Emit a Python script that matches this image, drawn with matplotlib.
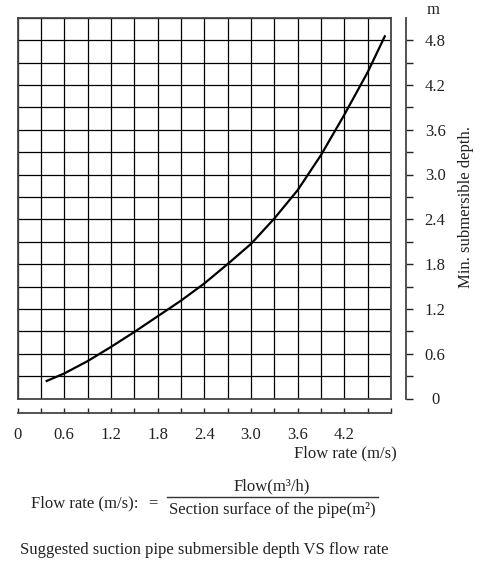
#matplotlib used to redraw the submersible depth chart
import matplotlib.pyplot as plt
from matplotlib.lines import Line2D
import numpy as np

plt.rcParams['font.family'] = ['Liberation Serif', 'DejaVu Serif']

flow = [0.375, 0.6, 0.9, 1.2, 1.5, 1.8, 2.1, 2.4, 2.7, 3.0, 3.3, 3.6, 3.9, 4.2, 4.5, 4.72]
depth = [0.235, 0.335, 0.50, 0.69, 0.89, 1.10, 1.31, 1.54, 1.80, 2.07, 2.41, 2.79, 3.26, 3.80, 4.37, 4.85]

step = 0.3
x_max = 4.8
y_max = 5.1
x_labels = ['0', '0.6', '1.2', '1.8', '2.4', '3.0', '3.6', '4.2']
y_labels = ['0', '0.6', '1.2', '1.8', '2.4', '3.0', '3.6', '4.2', '4.8']

W, H = 500, 565
fs = 12
txt_col = '#222222'
fig = plt.figure(figsize=(W/100, H/100), dpi=100)

def fx(px):
    return px/W

def fy(py):
    return 1 - py/H

# main grid
left, right, top, bottom = 17.5, 391, 17.7, 398.5
ax = fig.add_axes([fx(left), fy(bottom), fx(right-left), (bottom-top)/H])
ax.set_xlim(0, x_max)
ax.set_ylim(0, y_max)
xt = np.arange(0, x_max+0.01, step)
yt = np.arange(0, y_max+0.01, step)
ax.set_xticks(xt)
ax.set_yticks(yt)
ax.tick_params(length=0, labelbottom=False, labelleft=False)
ax.grid(True, color='black', linewidth=0.9)
for s in ax.spines.values():
    s.set_color('#444444')
    s.set_linewidth(1.3)
ax.plot(flow, depth, color='black', linewidth=1.6)

# separate depth scale on the right
ax_r = fig.add_axes([fx(396), fy(bottom), fx(10), (bottom-top)/H])
ax_r.set_ylim(0, y_max)
ax_r.set_xlim(0, 1)
ax_r.set_xticks([])
for name in ['left', 'top', 'bottom']:
    ax_r.spines[name].set_visible(False)
ax_r.spines['right'].set_color('#444444')
ax_r.spines['right'].set_linewidth(1.3)
ax_r.yaxis.tick_right()
ax_r.set_yticks(yt[:-1])
r_lab = []
for i in range(len(yt)-1):
    if i % 2 == 0:
        r_lab.append(y_labels[i//2])
    else:
        r_lab.append('')
ax_r.set_yticklabels(r_lab, fontsize=fs)
ax_r.tick_params(axis='y', direction='out', length=5, width=1.0, pad=16, colors=txt_col)
for lbl in ax_r.get_yticklabels():
    lbl.set_ha('center')
ax_r.patch.set_alpha(0)

# separate flow scale at the bottom
ax_b = fig.add_axes([fx(left), fy(412.7), fx(right-left), 10/H])
ax_b.set_xlim(0, x_max)
ax_b.set_yticks([])
for name in ['left', 'top', 'right']:
    ax_b.spines[name].set_visible(False)
ax_b.spines['bottom'].set_color('#444444')
ax_b.spines['bottom'].set_linewidth(1.3)
ax_b.set_xticks(xt)
b_lab = []
for i in range(len(xt)):
    if i % 2 == 0 and i//2 < len(x_labels):
        b_lab.append(x_labels[i//2])
    else:
        b_lab.append('')
ax_b.set_xticklabels(b_lab, fontsize=fs)
ax_b.tick_params(axis='x', direction='in', length=3.5, width=1.0, pad=10, colors=txt_col)
ax_b.patch.set_alpha(0)

# texts
fig.text(fx(433), fy(10), 'm', fontsize=fs, ha='center', va='center', color=txt_col)
fig.text(fx(466), fy(207), 'Min. submersible depth.', fontsize=fs, rotation=90,
         ha='center', va='center', color=txt_col)
fig.text(fx(397), fy(453), 'Flow rate (m/s)', fontsize=fs, ha='right', va='center', color=txt_col)

fig.text(fx(31), fy(503), 'Flow rate (m/s):', fontsize=fs, ha='left', va='center', color=txt_col)
fig.text(fx(153), fy(503), '=', fontsize=fs, ha='center', va='center', color=txt_col)
fig.text(fx(272), fy(486), 'Flow(m³/h)', fontsize=fs, ha='center', va='center', color=txt_col)
fig.add_artist(Line2D([fx(166.7), fx(378.3)], [fy(497), fy(497)], color='#333333', linewidth=1.0))
fig.text(fx(272), fy(510), 'Section surface of the pipe(m²)', fontsize=fs, ha='center', va='center', color=txt_col)

fig.text(fx(20), fy(550), 'Suggested suction pipe submersible depth VS flow rate', fontsize=fs,
         ha='left', va='center', color=txt_col)

plt.savefig('out.png', dpi=100)
